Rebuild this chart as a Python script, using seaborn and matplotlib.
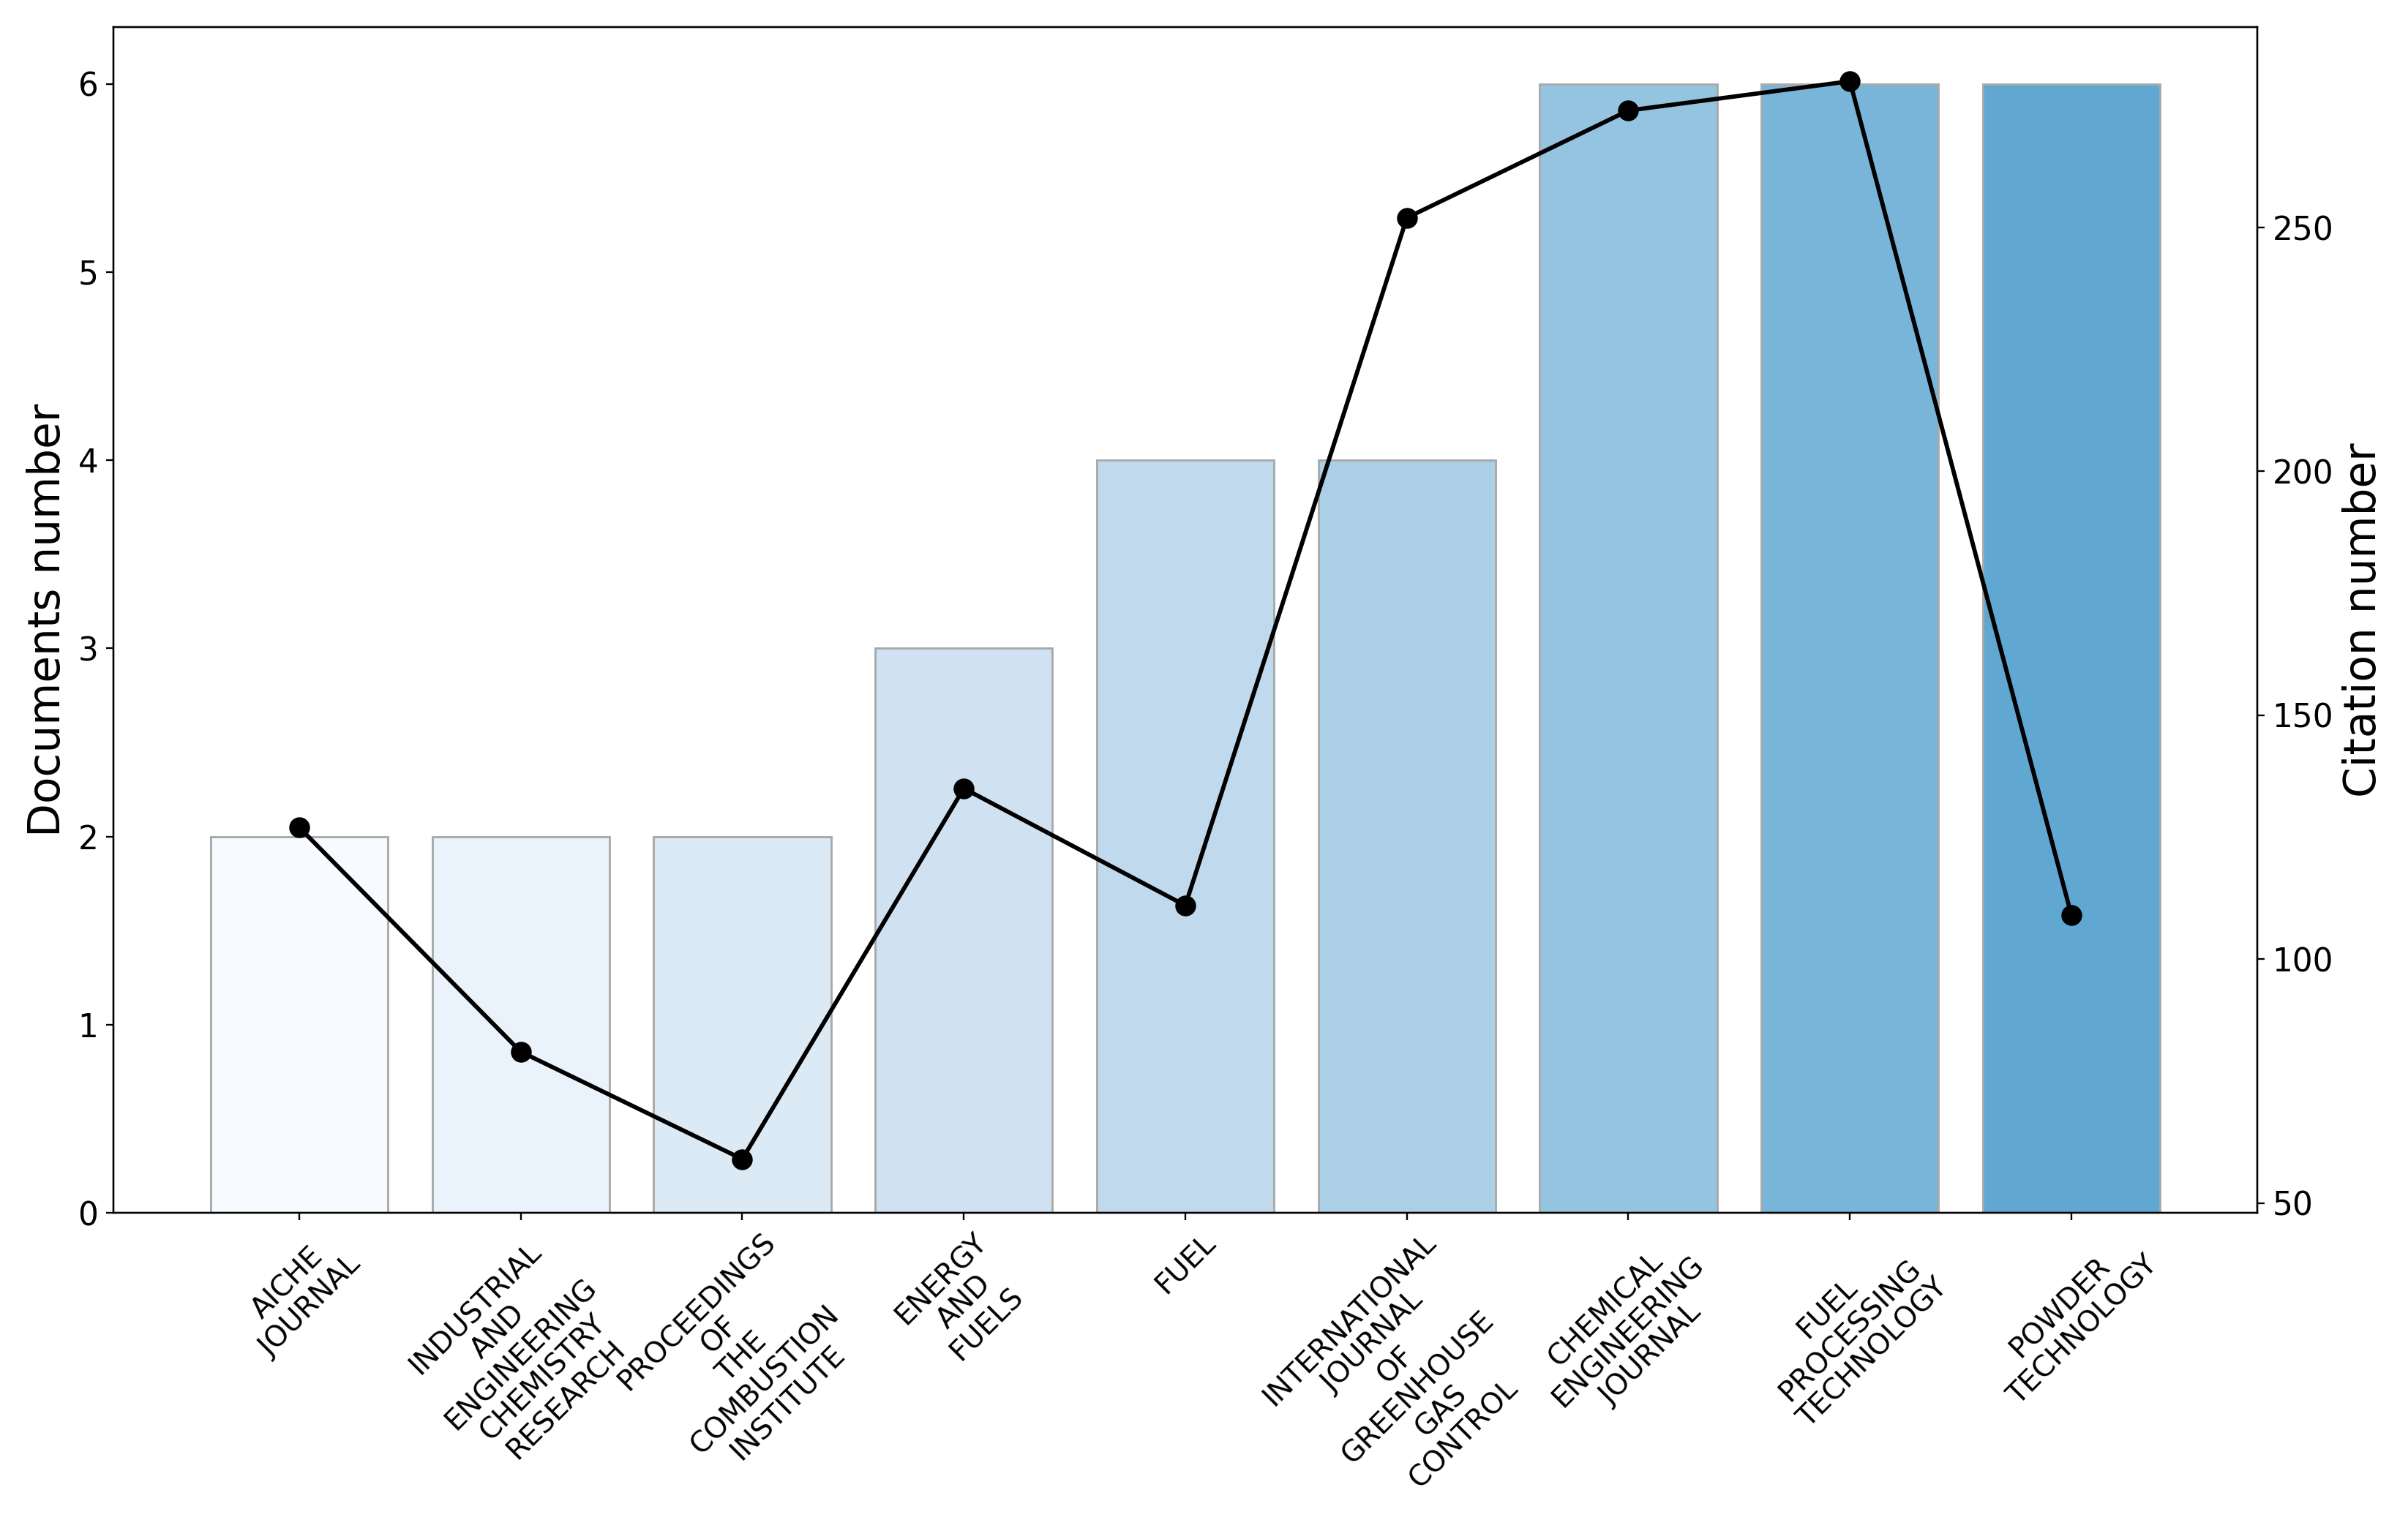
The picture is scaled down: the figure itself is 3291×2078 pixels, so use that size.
import numpy as np
import pandas as pd
import matplotlib
matplotlib.use("Agg")
import matplotlib.pyplot as plt
import seaborn as sns

# -----------------------------
# DATA
# -----------------------------
journals = [
    "AICHE JOURNAL",
    "INDUSTRIAL AND ENGINEERING CHEMISTRY RESEARCH",
    "PROCEEDINGS OF THE COMBUSTION INSTITUTE",
    "ENERGY AND FUELS",
    "FUEL",
    "INTERNATIONAL JOURNAL OF GREENHOUSE GAS CONTROL",
    "CHEMICAL ENGINEERING JOURNAL",
    "FUEL PROCESSING TECHNOLOGY",
    "POWDER TECHNOLOGY",
]
documents = [2, 2, 2, 3, 4, 4, 6, 6, 6]
citations = [127, 81, 59, 135, 111, 252, 274, 280, 109]

df = pd.DataFrame({"Journal": journals, "Documents": documents, "Citations": citations})
df["Pos"] = np.arange(len(df))

colors = plt.cm.Blues(np.linspace(0, 8 / 15, len(df)))

# -----------------------------
# PLOT
# -----------------------------
fig, ax = plt.subplots(figsize=(3291 / 210, 2078 / 210), dpi=210)
fig.subplots_adjust(left=0.047, right=0.9375, top=0.982, bottom=0.202)

sns.barplot(
    data=df, x="Journal", y="Documents", hue="Journal",
    palette=list(colors), legend=False, width=0.8, saturation=1,
    edgecolor="#aaaaaa", linewidth=1, ax=ax,
)
ax.set_xlim(-0.84, len(df) - 1 + 0.84)
ax.set_ylim(0, 6.3)
ax.set_xlabel("")
ax.set_ylabel("Documents number", fontsize=20.5)
ax.tick_params(axis="y", labelsize=15)
ax.set_xticks(df["Pos"])
ax.set_xticklabels([j.replace(" ", "\n") for j in journals], rotation=45, fontsize=13.5)

ax2 = ax.twinx()
sns.lineplot(
    data=df, x="Pos", y="Citations", color="black", marker="o",
    markersize=9, markeredgecolor="black", linewidth=2, ax=ax2,
)
ax2.set_ylabel("Citation number", fontsize=20.5)
ax2.tick_params(axis="y", labelsize=15)
ax2.set_xlim(-0.84, len(df) - 1 + 0.84)

plt.savefig("out.png", dpi=210)
